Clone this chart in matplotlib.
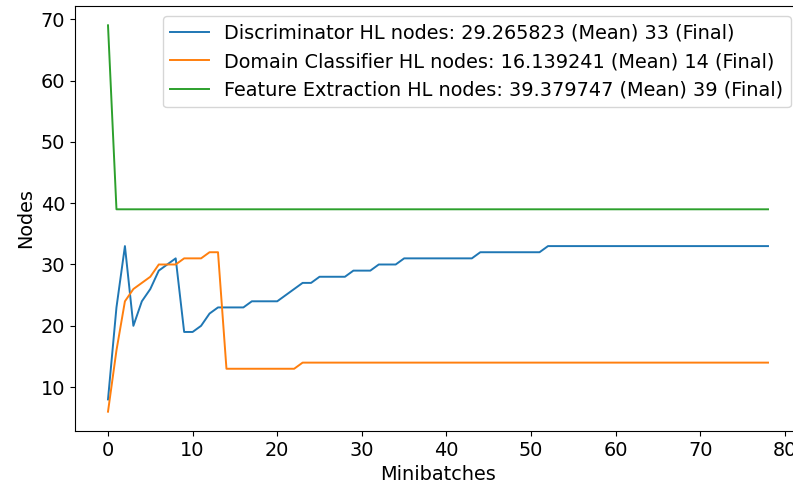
import matplotlib
matplotlib.use("Agg")
import matplotlib.pyplot as plt
import numpy as np

discriminator = [8, 23, 33, 20, 24, 26, 29, 30, 31, 19, 19, 20, 22, 23, 23, 23, 23,
                 24, 24, 24, 24, 25, 26, 27, 27, 28, 28, 28, 28, 29, 29, 29, 30, 30, 30] \
                + [31] * 9 + [32] * 8 + [33] * 27
domain = [6, 16, 24, 26, 27, 28, 30, 30, 30, 31, 31, 31, 32, 32] + [13] * 9 + [14] * 56
feature = [69] + [39] * 78

labels = [
    "Discriminator HL nodes: %f (Mean) %d (Final)" % (np.mean(discriminator), discriminator[-1]),
    "Domain Classifier HL nodes: %f (Mean) %d (Final)" % (np.mean(domain), domain[-1]),
    "Feature Extraction HL nodes: %f (Mean) %d (Final)" % (np.mean(feature), feature[-1]),
]

plt.rcParams['font.size'] = 13.9
fig = plt.figure(figsize=(7.93, 4.95), dpi=100)
W, H = 793, 495
ax = fig.add_axes([75 / W, 1 - 431 / H, 726 / W, 425 / H])
x = np.arange(len(discriminator))
ax.plot(x, discriminator, label=labels[0], lw=1.4)
ax.plot(np.arange(len(domain)), domain, label=labels[1], lw=1.4)
ax.plot(np.arange(len(feature)), feature, label=labels[2], lw=1.4)
ax.set_xlabel("Minibatches")
ax.set_ylabel("Nodes")
ax.legend(loc="upper right")
fig.savefig("out.png", dpi=100)
